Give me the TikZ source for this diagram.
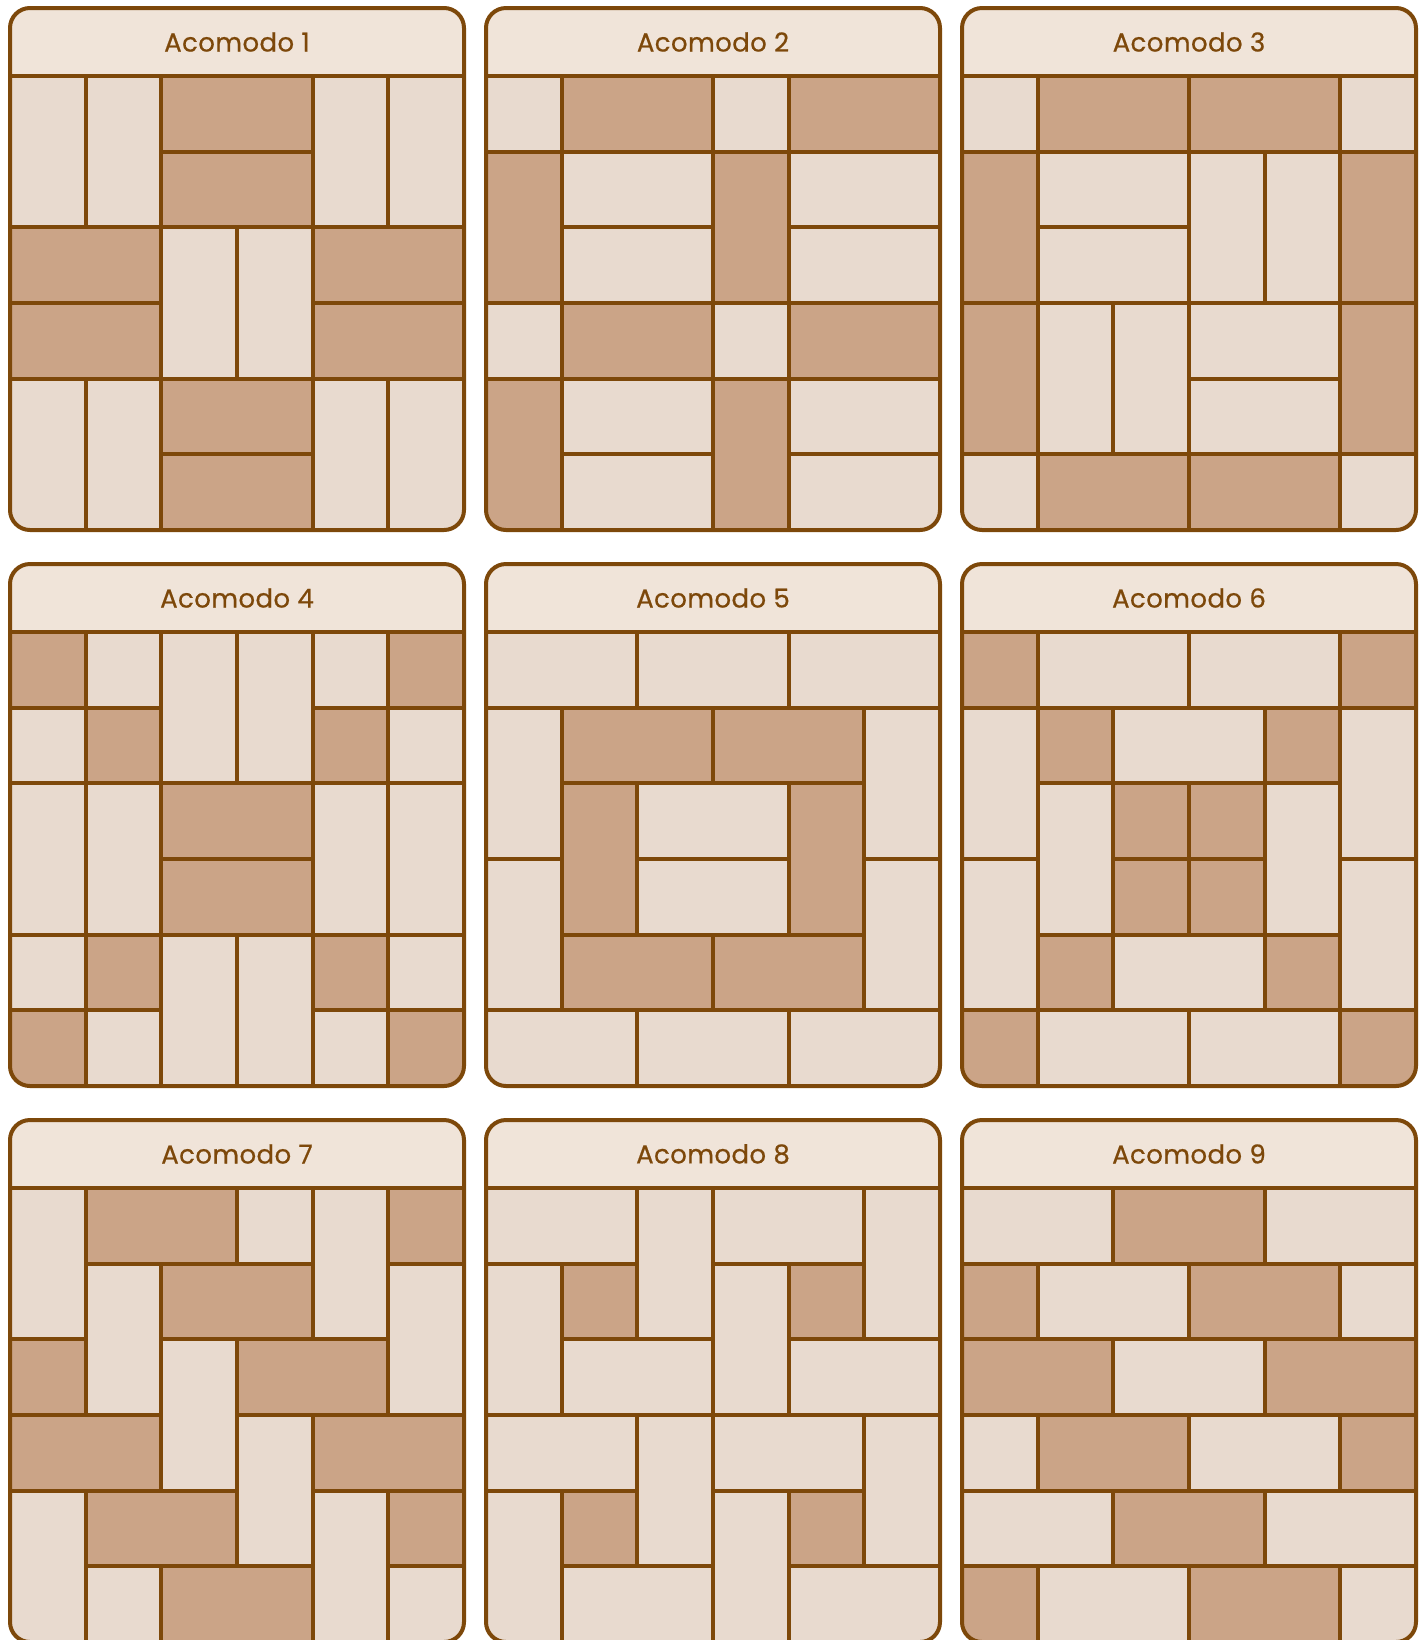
\documentclass[tikz,border=0pt]{standalone}
\usepackage{fontspec}
\newfontfamily\hdfont[FakeBold=0.6,LetterSpace=1.5]{Poppins}
\definecolor{edge}{HTML}{7D480A}
\definecolor{hdr}{HTML}{F0E4D9}
\definecolor{dk}{HTML}{CBA487}
\definecolor{lt}{HTML}{E8DACF}
\tikzset{
  tilebox/.style={draw=edge, line width=2pt},
  frame/.style={draw=edge, line width=2pt, rounded corners=10pt},
  title/.style={text=edge, font=\hdfont\fontsize{13}{15}\selectfont, inner sep=0pt}
}
\newcommand\panel[4]{%
  \begin{scope}[shift={(#1,#2)}]
    \fill[hdr, rounded corners=10pt] (0,0) rectangle (454,522);
    \begin{scope}
      \clip[rounded corners=10pt] (0,0) rectangle (454,522);
      \foreach \c/\r/\w/\h/\k in {#4} {
        \filldraw[tilebox, fill=\k] ({\c*454/6},{68+\r*454/6}) rectangle ++({\w*454/6},{\h*454/6});
      }
    \end{scope}
    \draw[frame] (0,0) rectangle (454,522);
    \draw[draw=edge, line width=2pt] (0,68) -- (454,68);
    \node[title] (t#3) at (227,34) {Acomodo #3};
  \end{scope}}
\begin{document}
\begin{tikzpicture}[x=0.5pt,y=-0.5pt]
\useasboundingbox (0,0) rectangle (1426,1640);
\fill[white] (0,0) rectangle (1426,1640);
% Acomodo 1
\panel{10}{8}{1}{0/0/1/2/lt,1/0/1/2/lt,4/0/1/2/lt,5/0/1/2/lt,2/0/2/1/dk,2/1/2/1/dk,0/2/2/1/dk,0/3/2/1/dk,2/2/1/2/lt,3/2/1/2/lt,4/2/2/1/dk,4/3/2/1/dk,0/4/1/2/lt,1/4/1/2/lt,4/4/1/2/lt,5/4/1/2/lt,2/4/2/1/dk,2/5/2/1/dk}
% Acomodo 2
\panel{486}{8}{2}{0/0/1/1/lt,1/0/2/1/dk,3/0/1/1/lt,4/0/2/1/dk,0/1/1/2/dk,1/1/2/1/lt,1/2/2/1/lt,3/1/1/2/dk,4/1/2/1/lt,4/2/2/1/lt,0/3/1/1/lt,1/3/2/1/dk,3/3/1/1/lt,4/3/2/1/dk,0/4/1/2/dk,1/4/2/1/lt,1/5/2/1/lt,3/4/1/2/dk,4/4/2/1/lt,4/5/2/1/lt}
% Acomodo 3
\panel{962}{8}{3}{0/0/1/1/lt,1/0/2/1/dk,3/0/2/1/dk,5/0/1/1/lt,0/1/1/2/dk,0/3/1/2/dk,1/1/2/1/lt,1/2/2/1/lt,3/1/1/2/lt,4/1/1/2/lt,5/1/1/2/dk,5/3/1/2/dk,1/3/1/2/lt,2/3/1/2/lt,3/3/2/1/lt,3/4/2/1/lt,0/5/1/1/lt,1/5/2/1/dk,3/5/2/1/dk,5/5/1/1/lt}
% Acomodo 4
\panel{10}{564}{4}{0/0/1/1/dk,1/0/1/1/lt,2/0/1/2/lt,3/0/1/2/lt,4/0/1/1/lt,5/0/1/1/dk,0/1/1/1/lt,1/1/1/1/dk,4/1/1/1/dk,5/1/1/1/lt,0/2/1/2/lt,1/2/1/2/lt,2/2/2/1/dk,2/3/2/1/dk,4/2/1/2/lt,5/2/1/2/lt,0/4/1/1/lt,1/4/1/1/dk,2/4/1/2/lt,3/4/1/2/lt,4/4/1/1/dk,5/4/1/1/lt,0/5/1/1/dk,1/5/1/1/lt,4/5/1/1/lt,5/5/1/1/dk}
% Acomodo 5
\panel{486}{564}{5}{0/0/2/1/lt,2/0/2/1/lt,4/0/2/1/lt,0/1/1/2/lt,0/3/1/2/lt,1/1/2/1/dk,3/1/2/1/dk,5/1/1/2/lt,5/3/1/2/lt,1/2/1/2/dk,4/2/1/2/dk,2/2/2/1/lt,2/3/2/1/lt,1/4/2/1/dk,3/4/2/1/dk,0/5/2/1/lt,2/5/2/1/lt,4/5/2/1/lt}
% Acomodo 6
\panel{962}{564}{6}{0/0/1/1/dk,1/0/2/1/lt,3/0/2/1/lt,5/0/1/1/dk,0/1/1/2/lt,0/3/1/2/lt,1/1/1/1/dk,2/1/2/1/lt,4/1/1/1/dk,5/1/1/2/lt,5/3/1/2/lt,1/2/1/2/lt,4/2/1/2/lt,2/2/1/1/dk,3/2/1/1/dk,2/3/1/1/dk,3/3/1/1/dk,1/4/1/1/dk,2/4/2/1/lt,4/4/1/1/dk,0/5/1/1/dk,1/5/2/1/lt,3/5/2/1/lt,5/5/1/1/dk}
% Acomodo 7
\panel{10}{1120}{7}{0/0/1/2/lt,1/0/2/1/dk,3/0/1/1/lt,4/0/1/2/lt,5/0/1/1/dk,1/1/1/2/lt,2/1/2/1/dk,5/1/1/2/lt,0/2/1/1/dk,2/2/1/2/lt,3/2/2/1/dk,0/3/2/1/dk,3/3/1/2/lt,4/3/2/1/dk,0/4/1/2/lt,1/4/2/1/dk,4/4/1/2/lt,5/4/1/1/dk,1/5/1/1/lt,2/5/2/1/dk,5/5/1/1/lt}
% Acomodo 8
\panel{486}{1120}{8}{0/0/2/1/lt,2/0/1/2/lt,3/0/2/1/lt,5/0/1/2/lt,0/1/1/2/lt,1/1/1/1/dk,3/1/1/2/lt,4/1/1/1/dk,1/2/2/1/lt,4/2/2/1/lt,0/3/2/1/lt,2/3/1/2/lt,3/3/2/1/lt,5/3/1/2/lt,0/4/1/2/lt,1/4/1/1/dk,3/4/1/2/lt,4/4/1/1/dk,1/5/2/1/lt,4/5/2/1/lt}
% Acomodo 9
\panel{962}{1120}{9}{0/0/2/1/lt,2/0/2/1/dk,4/0/2/1/lt,0/1/1/1/dk,1/1/2/1/lt,3/1/2/1/dk,5/1/1/1/lt,0/2/2/1/dk,2/2/2/1/lt,4/2/2/1/dk,0/3/1/1/lt,1/3/2/1/dk,3/3/2/1/lt,5/3/1/1/dk,0/4/2/1/lt,2/4/2/1/dk,4/4/2/1/lt,0/5/1/1/dk,1/5/2/1/lt,3/5/2/1/dk,5/5/1/1/lt}
\end{tikzpicture}
\end{document}
